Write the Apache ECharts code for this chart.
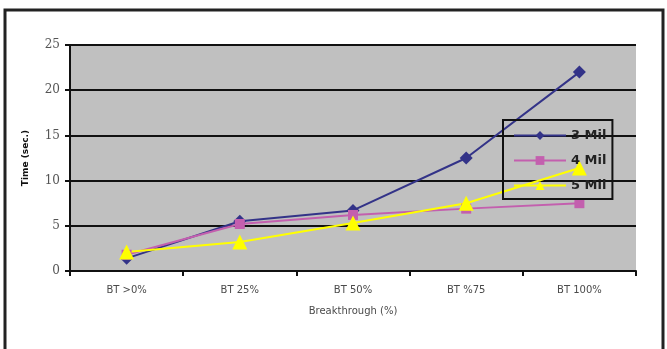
<!DOCTYPE html>
<html>
<head>
<meta charset="utf-8">
<script src="https://cdn.jsdelivr.net/npm/echarts@6/dist/echarts.min.js"></script>
<style>
  html, body { margin: 0; padding: 0; background: #fff; }
  #chart { width: 667px; height: 349px; }
</style>
</head>
<body>
<div id="chart"></div>
<script>
// Breakthrough stage on the x axis, run time in seconds per series
const categories = ['BT >0%', 'BT 25%', 'BT 50%', 'BT %75', 'BT 100%'];
const mil3 = [1.4, 5.5, 6.7, 12.5, 22.0];
const mil4 = [1.8, 5.2, 6.2, 6.9, 7.5];
const mil5 = [2.1, 3.2, 5.3, 7.5, 11.4];
const seriesNames = ['3 Mil', '4 Mil', '5 Mil'];
const yTicks = { min: 0, max: 25, interval: 5 };

const chart = echarts.init(document.getElementById('chart'));

const labelFont = { fontFamily: 'DejaVu Sans', fontSize: 10, color: '#4a4a4a' };

chart.setOption({
  animation: false,
  backgroundColor: '#ffffff',
  graphic: [{
    type: 'rect',
    shape: { x: 5, y: 10, width: 658, height: 360 },
    style: { fill: 'none', stroke: '#222', lineWidth: 3 },
    silent: true
  }],
  grid: {
    left: 70, right: 31, top: 45, bottom: 78,
    show: true, backgroundColor: '#c0c0c0', borderWidth: 0
  },
  xAxis: {
    type: 'category',
    data: categories,
    boundaryGap: true,
    name: 'Breakthrough (%)',
    nameLocation: 'middle',
    nameGap: 35,
    nameTextStyle: Object.assign({}, labelFont),
    axisLine: { lineStyle: { color: '#111', width: 2 } },
    axisTick: { show: true, alignWithLabel: false, length: 5, lineStyle: { color: '#111', width: 2 } },
    axisLabel: Object.assign({ margin: 14 }, labelFont),
    splitLine: { show: false }
  },
  yAxis: {
    type: 'value',
    min: yTicks.min, max: yTicks.max, interval: yTicks.interval,
    name: 'Time (sec.)',
    nameLocation: 'middle',
    nameGap: 40,
    nameRotate: 90,
    nameTextStyle: { fontFamily: 'DejaVu Sans', fontSize: 9, fontWeight: 'bold', color: '#111' },
    axisLine: { show: true, lineStyle: { color: '#111', width: 2 } },
    axisTick: { show: true, length: 5, lineStyle: { color: '#111', width: 2 } },
    axisLabel: Object.assign({ margin: 10 }, labelFont, { fontSize: 12, fontFamily: 'DejaVu Serif', color: '#555' }),
    splitLine: { show: true, lineStyle: { color: '#111', width: 2 } }
  },
  legend: {
    orient: 'vertical',
    left: 503, top: 120,
    width: 108,
    padding: [9, 6, 7, 10],
    itemGap: 12,
    itemWidth: 52,
    itemHeight: 11,
    borderColor: '#111',
    borderWidth: 2,
    backgroundColor: 'transparent',
    textStyle: { fontFamily: 'DejaVu Sans', fontSize: 13, fontWeight: 'bold', color: '#222' },
    data: seriesNames
  },
  series: [
    {
      name: seriesNames[0], type: 'line', data: mil3,
      symbol: 'diamond', symbolSize: 13,
      lineStyle: { color: '#333388', width: 2 },
      itemStyle: { color: '#333388' }
    },
    {
      name: seriesNames[1], type: 'line', data: mil4,
      symbol: 'rect', symbolSize: 10,
      lineStyle: { color: '#c35fae', width: 2 },
      itemStyle: { color: '#c35fae' }
    },
    {
      name: seriesNames[2], type: 'line', data: mil5,
      symbol: 'triangle', symbolSize: 15,
      lineStyle: { color: '#ffff00', width: 2 },
      itemStyle: { color: '#ffff00' }
    }
  ]
});
</script>
</body>
</html>
